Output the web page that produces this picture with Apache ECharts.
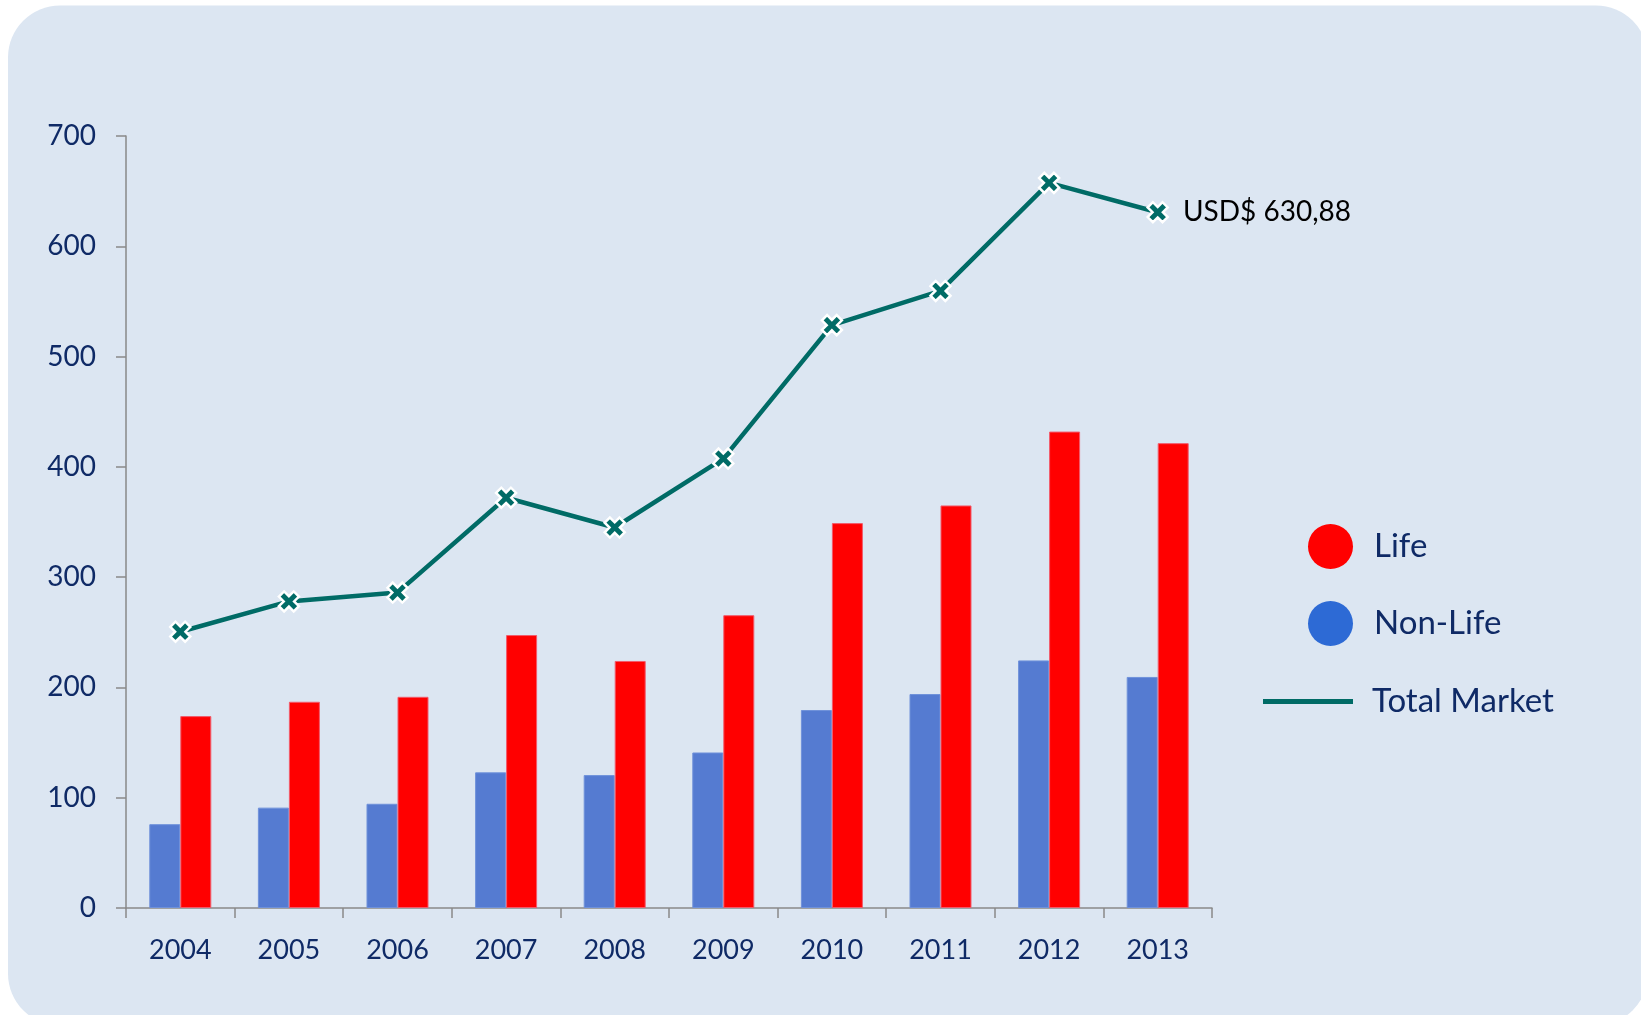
<!DOCTYPE html>
<html>
<head>
<meta charset="utf-8">
<script src="https://cdn.jsdelivr.net/npm/echarts@6/dist/echarts.min.js"></script>
<style>
  html, body { margin: 0; padding: 0; background: #ffffff; }
  #chart { width: 1641px; height: 1015px; }
</style>
</head>
<body>
<div id="chart"></div>
<script>
// Insurance premiums by year (USD)
const years = ['2004', '2005', '2006', '2007', '2008', '2009', '2010', '2011', '2012', '2013'];
const nonLife = [76, 91, 94.5, 123, 120.5, 141, 179.5, 194, 224.5, 209.5];
const life = [174, 187, 191.5, 247.5, 224, 265.5, 349, 365, 432, 421.5];
const totalMarket = [250.5, 278, 286, 372, 345, 407.5, 528.5, 559.5, 657.5, 630.88];
const yTicks = [0, 100, 200, 300, 400, 500, 600, 700];

const NAVY = '#0F2A66';
const TEAL = '#006B66';
const FONT = 'Lato';

// thick "x" marker
const crossPath = 'path://M0,2.6 L2.6,0 L5,2.4 L7.4,0 L10,2.6 L7.6,5 L10,7.4 L7.4,10 L5,7.6 L2.6,10 L0,7.4 L2.4,5 Z';

const chart = echarts.init(document.getElementById('chart'), null, { renderer: 'canvas' });

chart.setOption({
  animation: false,
  backgroundColor: '#ffffff',
  textStyle: { fontFamily: FONT },
  graphic: [{
    type: 'rect',
    z: -10,
    silent: true,
    shape: { x: 8, y: 5.5, width: 1640, height: 1020, r: 52 },
    style: { fill: '#DCE6F2' }
  }],
  grid: { left: 126, right: 429, top: 136, bottom: 107 },
  legend: [{
    orient: 'vertical',
    left: 1303,
    top: 519,
    padding: 5,
    itemWidth: 45,
    itemHeight: 45,
    itemGap: 32,
    icon: 'circle',
    itemStyle: { borderWidth: 0 },
    data: [
      { name: 'Life', itemStyle: { color: '#FF0000', borderWidth: 0 } },
      { name: 'Non-Life', itemStyle: { color: '#2D6AD5', borderWidth: 0 } }
    ],
    textStyle: { color: NAVY, fontSize: 33, fontFamily: FONT, padding: [0, 0, 0, 16] }
  }, {
    orient: 'vertical',
    left: 1258,
    top: 680,
    padding: 5,
    itemWidth: 90,
    itemHeight: 5,
    icon: 'rect',
    data: [{ name: 'Total Market', itemStyle: { color: TEAL, borderWidth: 0 } }],
    textStyle: { color: NAVY, fontSize: 33, fontFamily: FONT, padding: [0, 0, 0, 14] }
  }],
  xAxis: {
    type: 'category',
    data: years,
    boundaryGap: true,
    axisLine: { lineStyle: { color: '#898989', width: 1.5 } },
    axisTick: { show: true, length: 10, lineStyle: { color: '#898989', width: 1.5 } },
    axisLabel: { color: NAVY, fontSize: 27, fontFamily: FONT, margin: 29 }
  },
  yAxis: {
    type: 'value',
    min: 0,
    max: 700,
    interval: 100,
    axisLine: { show: true, lineStyle: { color: '#898989', width: 1.5 } },
    axisTick: { show: true, length: 10, lineStyle: { color: '#898989', width: 1.5 } },
    splitLine: { show: false },
    axisLabel: {
      color: NAVY, fontSize: 28, fontFamily: FONT, margin: 30,
      formatter: v => (yTicks.indexOf(v) >= 0 ? String(v) : '')
    }
  },
  series: [{
    name: 'Non-Life',
    type: 'bar',
    data: nonLife,
    barWidth: 31,
    barGap: '0%',
    itemStyle: { color: '#557BD1', borderColor: '#6F91DA', borderWidth: 1 }
  }, {
    name: 'Life',
    type: 'bar',
    data: life,
    barWidth: 31,
    barGap: '0%',
    itemStyle: { color: '#FF0000', borderColor: '#F25A6A', borderWidth: 1 }
  }, {
    name: 'Total Market',
    type: 'line',
    data: totalMarket.map((v, i) => i === totalMarket.length - 1 ? {
      value: v,
      label: {
        show: true,
        position: 'right',
        distance: 14,
        color: '#000000',
        fontSize: 28,
        fontFamily: FONT,
        formatter: p => 'USD$ ' + String(p.value).replace('.', ',')
      }
    } : v),
    symbol: crossPath,
    symbolSize: 20,
    lineStyle: { color: TEAL, width: 4.5 },
    itemStyle: { color: TEAL, borderColor: '#ffffff', borderWidth: 2.5 },
    z: 5
  }]
});
</script>
</body>
</html>
